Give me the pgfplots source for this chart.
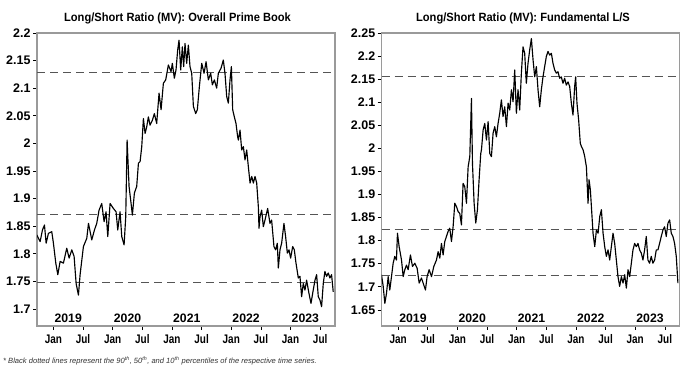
\documentclass[border=0pt]{standalone}
\usepackage{pgfplots}
\pgfplotsset{compat=1.18}
\usepackage{fontspec}
\setmainfont{Liberation Sans}
\newfontfamily\footfont{Liberation Sans}
\newfontfamily\condfont{Liberation Sans}[FakeStretch=0.8]
\newfontfamily\titlefont{Liberation Sans}[FakeStretch=0.93]
\definecolor{framegray}{HTML}{9A9A9A}
\definecolor{dashgray}{HTML}{555555}
\tikzset{yrlab/.style={font=\bfseries\fontsize{12.3}{13}\selectfont, anchor=base, yshift=3.5bp}}
\begin{document}
\begin{tikzpicture}
\useasboundingbox (0bp,0bp) rectangle (700bp,370bp);
\pgfplotsset{
  lsr/.style={
    scale only axis, width=298bp, height=293bp,
    xmin=2018.723, xmax=2023.75,
    axis line style={framegray, line width=1.3pt},
    xtick={2019,2019.5,2020,2020.5,2021,2021.5,2022,2022.5,2023,2023.5},
    xticklabels={Jan,Jul,Jan,Jul,Jan,Jul,Jan,Jul,Jan,Jul},
    tick align=outside, tick pos=left,
    major tick length=4bp,
    tick style={black, line width=0.6pt},
    /pgf/number format/assume math mode=true,
    yticklabel style={font=\bfseries\fontsize{12.5}{13}\selectfont, xshift=1bp},
    xticklabel style={font=\condfont\bfseries\fontsize{12.5}{13}\selectfont, yshift=-1bp},
    clip=true,
  },
  dline/.style={dashgray, line width=0.7pt, dash pattern=on 8bp off 5bp},
  dataline/.style={black, line width=1.15pt, line join=round},
}
% Left panel
\begin{axis}[lsr, at={(37bp,44bp)}, anchor=south west,
  ymin=1.669, ymax=2.2,
  ytick={1.7,1.75,1.8,1.85,1.9,1.95,2,2.05,2.1,2.15,2.2},
  yticklabels={1.7,1.75,1.8,1.85,1.9,1.95,2,2.05,2.1,2.15,2.2}]
\addplot[dline] coordinates {(2018.723,2.129) (2023.75,2.129)};
\addplot[dline] coordinates {(2018.723,1.872) (2023.75,1.872)};
\addplot[dline] coordinates {(2018.723,1.749) (2023.75,1.749)};
\addplot[dataline] coordinates {
(2018.72,1.834) (2018.776,1.822) (2018.815,1.843) (2018.849,1.852) (2018.877,1.819) (2018.916,1.837) (2018.972,1.840) (2019.0,1.819) (2019.04,1.783) (2019.074,1.762) (2019.113,1.786) (2019.169,1.783) (2019.225,1.810) (2019.265,1.792) (2019.31,1.807) (2019.349,1.795) (2019.383,1.746) (2019.422,1.725) (2019.45,1.762) (2019.506,1.813) (2019.563,1.828) (2019.591,1.855) (2019.647,1.825) (2019.692,1.843) (2019.731,1.855) (2019.77,1.879) (2019.815,1.891) (2019.855,1.858) (2019.888,1.876) (2019.917,1.831) (2019.956,1.891) (2020.012,1.882) (2020.057,1.876) (2020.085,1.843) (2020.124,1.876) (2020.153,1.831) (2020.192,1.816) (2020.22,1.867) (2020.243,2.006) (2020.276,1.922) (2020.31,1.891) (2020.332,1.870) (2020.366,1.910) (2020.405,1.922) (2020.434,1.964) (2020.462,1.967) (2020.49,1.994) (2020.518,2.045)
(2020.546,2.018) (2020.574,2.030) (2020.602,2.048) (2020.63,2.033) (2020.67,2.042) (2020.703,2.054) (2020.742,2.036) (2020.782,2.091) (2020.816,2.061) (2020.855,2.109) (2020.894,2.115) (2020.939,2.142) (2020.984,2.130) (2021.006,2.145) (2021.04,2.118) (2021.068,2.133) (2021.096,2.169) (2021.119,2.187) (2021.147,2.133) (2021.175,2.175) (2021.197,2.139) (2021.22,2.181) (2021.248,2.145) (2021.276,2.178) (2021.304,2.139) (2021.333,2.127) (2021.361,2.067) (2021.4,2.054) (2021.428,2.061) (2021.462,2.103) (2021.502,2.145) (2021.541,2.127) (2021.575,2.148) (2021.614,2.115) (2021.653,2.127) (2021.681,2.106) (2021.715,2.115) (2021.754,2.100) (2021.782,2.127) (2021.827,2.136) (2021.866,2.151) (2021.894,2.127) (2021.923,2.085) (2021.951,2.073) (2021.979,2.115) (2022.002,2.139) (2022.024,2.061) (2022.052,2.048) (2022.08,2.036) (2022.108,2.012) (2022.12,2.006)
(2022.148,2.024) (2022.176,1.988) (2022.204,1.994) (2022.232,1.970) (2022.26,1.988) (2022.288,1.958) (2022.317,1.928) (2022.345,1.940) (2022.373,1.928) (2022.401,1.940) (2022.429,1.928) (2022.457,1.885) (2022.468,1.846) (2022.485,1.867) (2022.513,1.879) (2022.541,1.849) (2022.569,1.861) (2022.614,1.882) (2022.653,1.855) (2022.681,1.861) (2022.72,1.813) (2022.749,1.807) (2022.777,1.819) (2022.794,1.774) (2022.822,1.807) (2022.85,1.819) (2022.889,1.855) (2022.917,1.831) (2022.946,1.801) (2022.974,1.807) (2023.002,1.792) (2023.036,1.813) (2023.064,1.807) (2023.092,1.783) (2023.131,1.756) (2023.159,1.759) (2023.187,1.722) (2023.215,1.746) (2023.243,1.734) (2023.271,1.752) (2023.311,1.728) (2023.345,1.710) (2023.373,1.728) (2023.412,1.752) (2023.44,1.762) (2023.468,1.722) (2023.496,1.716) (2023.524,1.704) (2023.552,1.746) (2023.58,1.768) (2023.608,1.759) (2023.636,1.765) (2023.664,1.756) (2023.692,1.762) (2023.72,1.731)
};
\pgfplotsinvokeforeach{2019,2020,2021,2022,2023}{
  \node[yrlab] at (axis cs:#1.25,1.669) {#1};
}
\end{axis}
% Right panel
\begin{axis}[lsr, at={(381.7bp,44bp)}, anchor=south west,
  ymin=1.615, ymax=2.25,
  ytick={1.65,1.7,1.75,1.8,1.85,1.9,1.95,2,2.05,2.1,2.15,2.2,2.25},
  yticklabels={1.65,1.7,1.75,1.8,1.85,1.9,1.95,2,2.05,2.1,2.15,2.2,2.25}]
\addplot[dline] coordinates {(2018.723,2.157) (2023.75,2.157)};
\addplot[dline] coordinates {(2018.723,1.825) (2023.75,1.825)};
\addplot[dline] coordinates {(2018.723,1.724) (2023.75,1.724)};
\addplot[dataline] coordinates {
(2018.72,1.726) (2018.748,1.701) (2018.776,1.664) (2018.804,1.686) (2018.832,1.722) (2018.86,1.693) (2018.888,1.722) (2018.916,1.751) (2018.944,1.766) (2018.972,1.758) (2018.989,1.816) (2019.017,1.787) (2019.057,1.758) (2019.085,1.722) (2019.113,1.737) (2019.141,1.747) (2019.169,1.737) (2019.208,1.769) (2019.242,1.744) (2019.282,1.751) (2019.321,1.740) (2019.355,1.708) (2019.394,1.719) (2019.422,1.708) (2019.461,1.693) (2019.489,1.722) (2019.523,1.737) (2019.563,1.722) (2019.602,1.744) (2019.647,1.758) (2019.675,1.776) (2019.703,1.762) (2019.731,1.794) (2019.759,1.769) (2019.787,1.798) (2019.815,1.809) (2019.843,1.820) (2019.871,1.827) (2019.9,1.798) (2019.928,1.831) (2019.956,1.881) (2019.984,1.874) (2020.012,1.863) (2020.04,1.859) (2020.068,1.834) (2020.096,1.924) (2020.124,1.917) (2020.153,1.881) (2020.181,1.960) (2020.209,1.982) (2020.237,2.108) (2020.254,1.968) (2020.282,1.881) (2020.31,1.838) (2020.338,1.867) (2020.366,1.932) (2020.394,1.989)
(2020.406,1.997) (2020.434,2.040) (2020.462,2.054) (2020.49,2.018) (2020.518,2.058) (2020.546,1.989) (2020.574,1.982) (2020.602,2.033) (2020.63,2.047) (2020.658,2.025) (2020.686,2.054) (2020.714,2.076) (2020.742,2.105) (2020.77,2.069) (2020.798,2.090) (2020.827,2.047) (2020.855,2.098) (2020.883,2.083) (2020.911,2.127) (2020.939,2.101) (2020.967,2.170) (2020.995,2.076) (2021.023,2.127) (2021.051,2.083) (2021.079,2.163) (2021.107,2.220) (2021.135,2.206) (2021.163,2.141) (2021.191,2.184) (2021.219,2.213) (2021.248,2.238) (2021.276,2.192) (2021.304,2.155) (2021.332,2.177) (2021.36,2.127) (2021.388,2.090) (2021.416,2.127) (2021.444,2.155) (2021.472,2.177) (2021.5,2.199) (2021.528,2.210) (2021.557,2.202) (2021.585,2.206) (2021.613,2.184) (2021.641,2.170) (2021.669,2.163) (2021.697,2.166) (2021.725,2.152) (2021.753,2.155) (2021.781,2.141) (2021.809,2.152) (2021.837,2.137) (2021.866,2.144) (2021.894,2.134) (2021.922,2.098) (2021.95,2.072) (2021.978,2.134) (2021.995,2.155) (2022.017,2.098) (2022.045,2.062) (2022.073,2.011) (2022.092,2.004)
(2022.12,1.997) (2022.148,1.982) (2022.176,1.960) (2022.204,1.881) (2022.221,1.932) (2022.243,1.910) (2022.271,1.852) (2022.288,1.816) (2022.317,1.787) (2022.345,1.823) (2022.373,1.816) (2022.401,1.852) (2022.429,1.867) (2022.457,1.816) (2022.485,1.787) (2022.513,1.766) (2022.541,1.780) (2022.569,1.758) (2022.597,1.787) (2022.625,1.816) (2022.653,1.794) (2022.681,1.758) (2022.709,1.722) (2022.737,1.701) (2022.766,1.722) (2022.794,1.708) (2022.822,1.726) (2022.85,1.697) (2022.878,1.737) (2022.906,1.722) (2022.934,1.751) (2022.962,1.780) (2022.99,1.794) (2023.018,1.787) (2023.046,1.794) (2023.074,1.780) (2023.102,1.773) (2023.13,1.758) (2023.158,1.780) (2023.186,1.809) (2023.214,1.758) (2023.242,1.751) (2023.27,1.766) (2023.298,1.751) (2023.327,1.758) (2023.355,1.780) (2023.383,1.780) (2023.411,1.794) (2023.439,1.809) (2023.467,1.823) (2023.495,1.830) (2023.523,1.809) (2023.552,1.838) (2023.58,1.845) (2023.608,1.816) (2023.636,1.809) (2023.664,1.794) (2023.692,1.766) (2023.72,1.708)
};
\pgfplotsinvokeforeach{2019,2020,2021,2022,2023}{
  \node[yrlab] at (axis cs:#1.25,1.615) {#1};
}
\end{axis}
% Titles
\node[font=\titlefont\bfseries\fontsize{12}{13}\selectfont, anchor=base] at (177.5bp,348bp) {Long/Short Ratio (MV): Overall Prime Book};
\node[font=\titlefont\bfseries\fontsize{12}{13}\selectfont, anchor=base] at (523bp,348bp) {Long/Short Ratio (MV): Fundamental L/S};
% Footnote
\node[font=\footfont\itshape\fontsize{7.6}{8}\selectfont, text=black!80, anchor=base west, inner sep=0pt] at (3bp,6.5bp) {* Black dotted lines represent the 90\textsuperscript{th}, 50\textsuperscript{th}, and 10\textsuperscript{th} percentiles of the respective time series.};
\end{tikzpicture}
\end{document}
